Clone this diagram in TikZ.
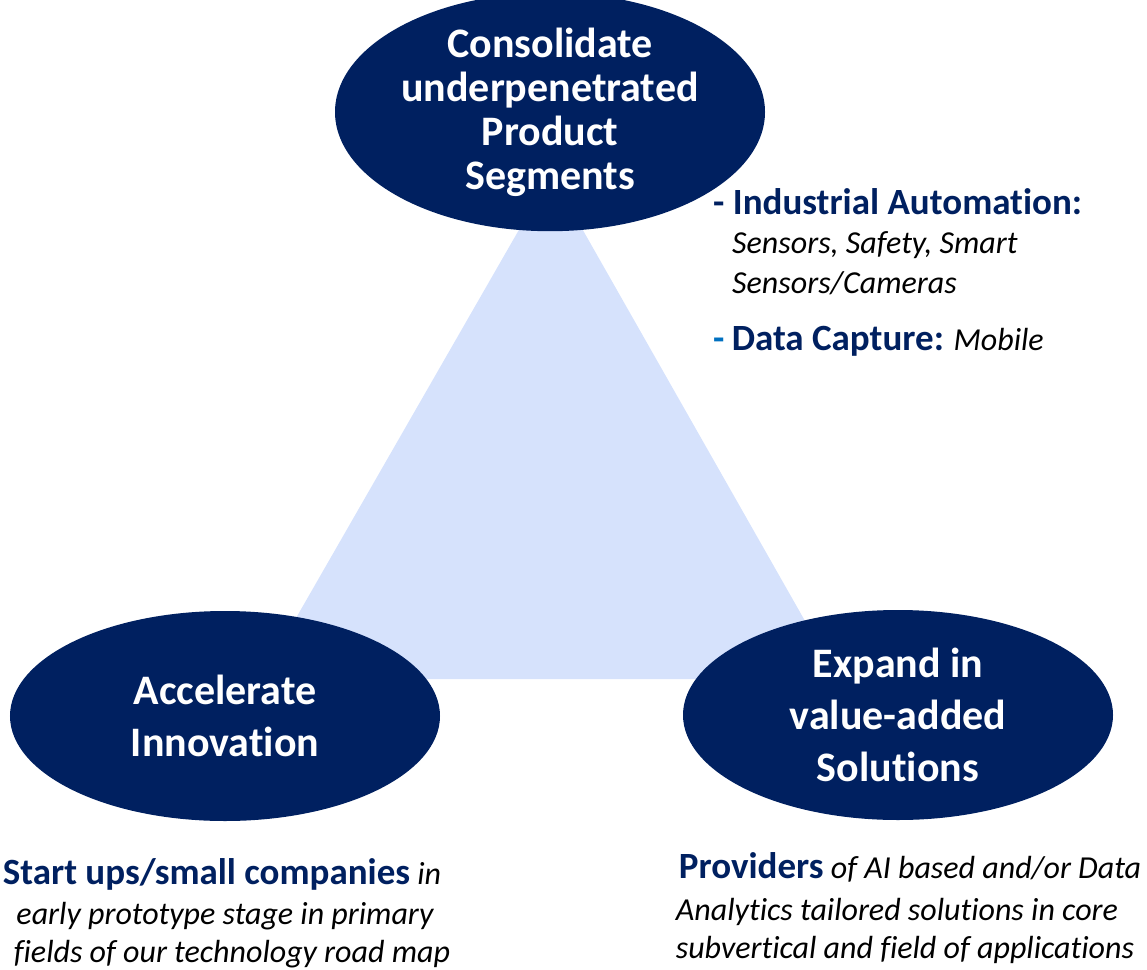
\documentclass[tikz,border=0pt]{standalone}
\usepackage{fontspec}
\setmainfont{Carlito}[Ligatures=NoCommon]
\usetikzlibrary{shapes.geometric}
\definecolor{navy}{HTML}{002060}
\definecolor{trifill}{HTML}{D6E2FC}
\definecolor{dashblue}{HTML}{0070C0}
\newcommand{\keyfont}{\bfseries\fontsize{37bp}{40bp}\selectfont}
\begin{document}
\begin{tikzpicture}[x=1bp,y=-1bp,
  goal/.style={ellipse, fill=navy, draw=none, minimum width=430bp, minimum height=210bp,
    inner sep=0pt, text=white, align=center, font=\bfseries\fontsize{42bp}{44bp}\selectfont},
  goalwide/.style={goal, font=\bfseries\fontsize{42bp}{52bp}\selectfont},
  note/.style={anchor=base west, inner sep=0pt, font=\fontsize{32bp}{36bp}\selectfont},
  cnote/.style={anchor=base, inner sep=0pt, font=\fontsize{32bp}{36bp}\selectfont}]
  \useasboundingbox (0,0) rectangle (1147,970);

  % central triangle linking the three goals
  \coordinate (apex) at (551,174);
  \coordinate (bl) at (261,679);
  \coordinate (br) at (838,679);
  \fill[trifill] (apex) -- (bl) -- (br) -- cycle;

  % the three goals
  \node[goal] (top) at (550,112) {Consolidate\\underpenetrated\\Product\\Segments};
  \node[goalwide] (left) at (225,716) {Accelerate\\Innovation};
  \node[goalwide] (right) at (898,715) {Expand in\\value-added\\Solutions};

  % target segments beside the top goal
  \node[note] (ia) at (713,214) {{\color{navy}\keyfont - Industrial Automation:}};
  \node[note] (ia1) at (732,253) {\itshape Sensors, Safety, Smart};
  \node[note] (ia2) at (732,293) {\itshape Sensors/Cameras};
  \node[note] (dc) at (713,350) {{\color{dashblue}\keyfont -} {\color{navy}\keyfont Data Capture:} \itshape Mobile};

  % targets under the lower goals
  \node[cnote] (su1) at (222,884) {{\color{navy}\keyfont Start ups/small companies} \itshape in};
  \node[cnote] (su2) at (225,924) {\itshape early prototype stage in primary};
  \node[cnote] (su3) at (232,962) {\itshape fields of our technology road map};

  \node[cnote] (pr1) at (910,878) {{\color{navy}\keyfont Providers} \itshape of AI based and/or Data};
  \node[cnote] (pr2) at (897,920) {\itshape Analytics tailored solutions in core};
  \node[cnote] (pr3) at (905,958) {\itshape subvertical and field of applications};
\end{tikzpicture}
\end{document}
